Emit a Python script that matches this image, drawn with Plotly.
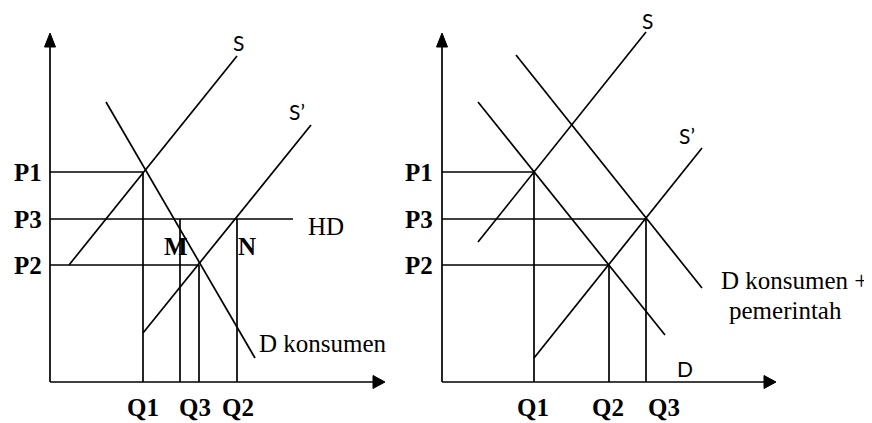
import plotly.graph_objects as go
from plotly.subplots import make_subplots

# Price levels, shared by both panels (same order as the tick labels)
price_labels = ["P1", "P3", "P2"]
price_values = [21.0, 16.3, 11.7]

# Left panel: highest price (HD) policy
left_q_labels = ["Q1", "Q3", "Q2"]
left_q_values = [9.3, 14.9, 18.7]
left_m_value = 13.0          # quantity at point M (demand meets HD)
left_hd_end = 24.3
left_s_x = [1.9, 18.7]
left_s_y = [11.7, 32.6]
left_s2_x = [9.3, 26.1]
left_s2_y = [4.9, 25.7]
left_d_x = [5.6, 20.5]
left_d_y = [28.0, 2.4]

# Right panel: government purchase shifts demand
right_q_labels = ["Q1", "Q2", "Q3"]
right_q_values = [9.2, 16.7, 20.4]
right_s_x = [3.6, 20.4]
right_s_y = [14.0, 35.0]
right_s2_x = [9.2, 26.0]
right_s2_y = [2.4, 23.4]
right_d_x = [3.6, 22.3]
right_d_y = [28.0, 4.7]
right_dg_x = [7.4, 26.0]
right_dg_y = [32.7, 9.4]

# axis lengths (data units)
x_axis_end = [33.5, 33.4]
y_axis_end = 34.9

SERIF = "Liberation Serif, Times New Roman, serif"
SANS = "Lato, Carlito, Calibri, sans-serif"
LINE_W = 1.7

# the page body has an 8px margin, so the figure is 8px smaller than the window
# and the ranges below are shifted to keep 10 px per data unit
FIG_W, FIG_H = 864, 415

fig = make_subplots(rows=1, cols=2, horizontal_spacing=0)


def segments(pairs):
    # list of ((x0, y0), (x1, y1)) -> x/y lists separated by None
    xs, ys = [], []
    for (x0, y0), (x1, y1) in pairs:
        xs += [x0, x1, None]
        ys += [y0, y1, None]
    return xs, ys


def add_lines(pairs, col):
    xs, ys = segments(pairs)
    fig.add_trace(go.Scatter(x=xs, y=ys, mode="lines",
                             line=dict(color="black", width=LINE_W),
                             hoverinfo="skip"), row=1, col=col)


def add_axes(col):
    xe = x_axis_end[col - 1]
    add_lines([((0, 0), (xe - 0.6, 0)), ((0, 0), (0, y_axis_end - 0.7))], col)
    # arrow heads
    fig.add_trace(go.Scatter(x=[xe, xe - 1.2, xe - 1.2, xe], y=[0, 0.65, -0.65, 0],
                             fill="toself", fillcolor="black", mode="lines",
                             line=dict(color="black", width=1), hoverinfo="skip"),
                  row=1, col=col)
    fig.add_trace(go.Scatter(x=[0, 0.55, -0.55, 0],
                             y=[y_axis_end, y_axis_end - 1.4, y_axis_end - 1.4, y_axis_end],
                             fill="toself", fillcolor="black", mode="lines",
                             line=dict(color="black", width=1), hoverinfo="skip"),
                  row=1, col=col)


def label(text, x, y, col, font, xshift=0, yshift=0, xanchor="center", bold=False):
    ax = "x" if col == 1 else "x2"
    ay = "y" if col == 1 else "y2"
    if bold:
        text = "<b>" + text + "</b>"
    fig.add_annotation(text=text, x=x, y=y, xref=ax, yref=ay, showarrow=False,
                       xanchor=xanchor, yanchor="middle", xshift=xshift, yshift=yshift,
                       font=font)


bold_font = dict(family=SERIF, size=25, color="black")
serif_font = dict(family=SERIF, size=25, color="black")
sans_font = dict(family=SANS, size=21, color="black")

# ---------------- left panel ----------------
add_axes(1)
p1, p3, p2 = price_values
q1, q3, q2 = left_q_values
add_lines([
    ((0, p1), (q1, p1)),
    ((0, p3), (left_hd_end, p3)),
    ((0, p2), (q3, p2)),
    ((q1, 0), (q1, p1)),
    ((left_m_value, 0), (left_m_value, p3)),
    ((q3, 0), (q3, p2)),
    ((q2, 0), (q2, p3)),
    ((left_s_x[0], left_s_y[0]), (left_s_x[1], left_s_y[1])),
    ((left_s2_x[0], left_s2_y[0]), (left_s2_x[1], left_s2_y[1])),
    ((left_d_x[0], left_d_y[0]), (left_d_x[1], left_d_y[1])),
], 1)

for name, v in zip(price_labels, price_values):
    label(name, 0, v, 1, bold_font, xshift=-6, xanchor="right", bold=True)
for name, v, dx in zip(left_q_labels, left_q_values, [0, -4, 1]):
    label(name, v, 0, 1, bold_font, xshift=dx, yshift=-25, bold=True)

label("S", left_s_x[1], left_s_y[1], 1, sans_font, xshift=1, yshift=14)
label("S’", left_s2_x[1], left_s2_y[1], 1, sans_font, xshift=-14, yshift=14)
label("HD", left_hd_end, p3, 1, serif_font, xshift=13, yshift=-7, xanchor="left")
label("M", left_m_value, p3, 1, bold_font, xshift=-4, yshift=-27, bold=True)
label("N", q2, p3, 1, bold_font, xshift=10, yshift=-27, bold=True)
label("D konsumen", left_d_x[1], left_d_y[1], 1, serif_font, xshift=2, yshift=15,
      xanchor="left")

# ---------------- right panel ----------------
add_axes(2)
r1, r2, r3 = right_q_values
add_lines([
    ((0, p1), (r1, p1)),
    ((0, p3), (r3, p3)),
    ((0, p2), (r2, p2)),
    ((r1, 0), (r1, p1)),
    ((r2, 0), (r2, p2)),
    ((r3, 0), (r3, p3)),
    ((right_s_x[0], right_s_y[0]), (right_s_x[1], right_s_y[1])),
    ((right_s2_x[0], right_s2_y[0]), (right_s2_x[1], right_s2_y[1])),
    ((right_d_x[0], right_d_y[0]), (right_d_x[1], right_d_y[1])),
    ((right_dg_x[0], right_dg_y[0]), (right_dg_x[1], right_dg_y[1])),
], 2)

for name, v in zip(price_labels, price_values):
    label(name, 0, v, 2, bold_font, xshift=-7, xanchor="right", bold=True)
for name, v, dx in zip(right_q_labels, right_q_values, [-1, -1, 18]):
    label(name, v, 0, 2, bold_font, xshift=dx, yshift=-25, bold=True)

label("S", right_s_x[1], right_s_y[1], 2, sans_font, xshift=1, yshift=12)
label("S’", right_s2_x[1], right_s2_y[1], 2, sans_font, xshift=-15, yshift=13)
label("D konsumen +", right_dg_x[1], right_dg_y[1], 2, serif_font, xshift=17, yshift=8,
      xanchor="left")
label("pemerintah", right_dg_x[1], right_dg_y[1], 2, serif_font, xshift=25, yshift=-22,
      xanchor="left")
label("D", r3, 0, 2, sans_font, xshift=39, yshift=14)

# 10 px per data unit, origin of each panel placed at the axis corner
split = 428 / FIG_W
fig.update_xaxes(visible=False, fixedrange=True)
fig.update_yaxes(visible=False, fixedrange=True)
fig.update_xaxes(domain=[0, split], range=[-4.2, 38.6], row=1, col=1)
fig.update_xaxes(domain=[split, 1], range=[-0.6, 43.0], row=1, col=2)
fig.update_yaxes(domain=[0, 1], range=[-4.1, 37.4], row=1, col=1)
fig.update_yaxes(domain=[0, 1], range=[-4.1, 37.4], row=1, col=2)

fig.update_layout(
    width=FIG_W, height=FIG_H,
    margin=dict(l=0, r=0, t=0, b=0),
    paper_bgcolor="white", plot_bgcolor="white",
    showlegend=False,
)

fig.write_html("out.html")
